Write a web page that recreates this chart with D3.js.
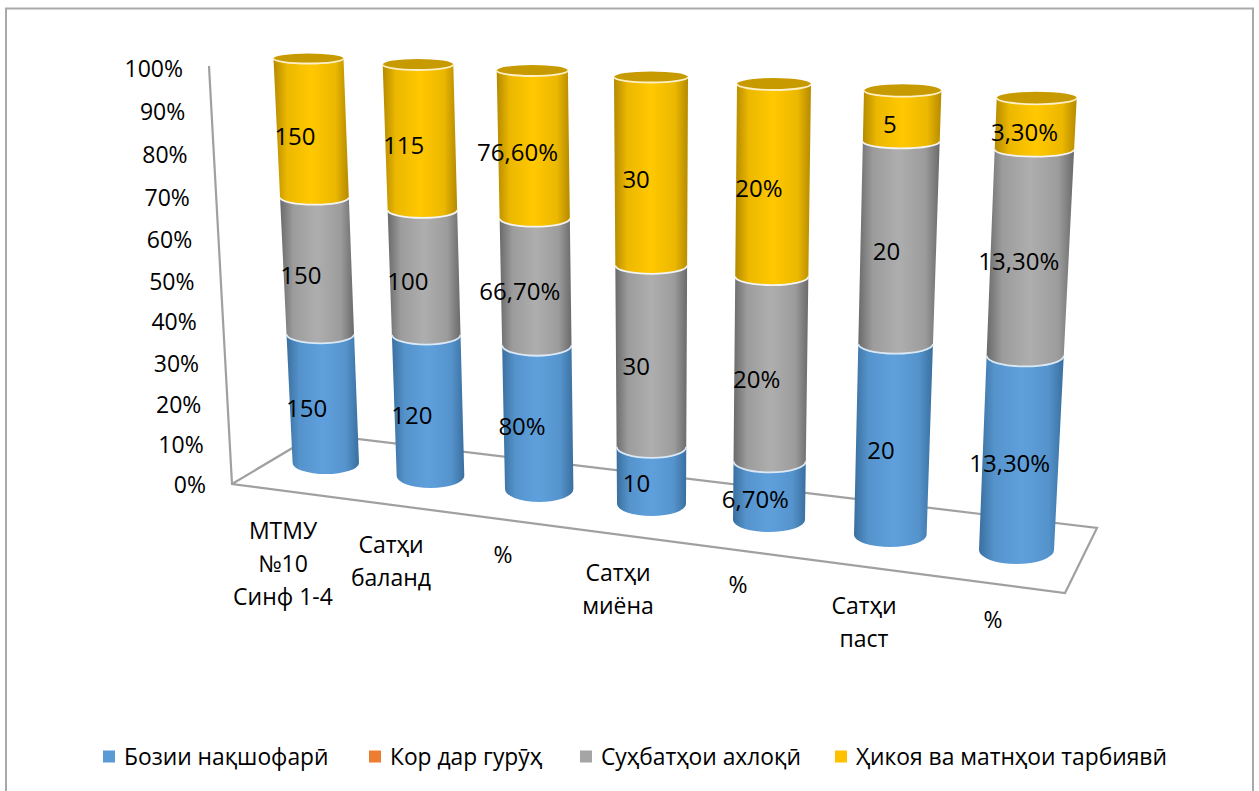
<!DOCTYPE html>
<html>
<head>
<meta charset="utf-8">
<script src="https://cdnjs.cloudflare.com/ajax/libs/d3/7.8.5/d3.min.js"></script>
<style>
html,body{margin:0;padding:0;background:#fff;overflow:hidden}
text{font-family:"Open Sans","Noto Sans",sans-serif;fill:#000}
</style>
</head>
<body>
<svg id="c" width="1259" height="791"></svg>
<script>
// ---- data ----
const categories = [["МТМУ","№10","Синф 1-4"],["Сатҳи","баланд"],["%"],["Сатҳи","миёна"],["%"],["Сатҳи","паст"],["%"]];
const seriesNames = ["Бозии нақшофарӣ","Кор дар гурӯҳ","Суҳбатҳои ахлоқӣ","Ҳикоя ва матнҳои тарбиявӣ"];
const boziValues  = [150,120,80,10,6.7,20,13.3];
const korValues   = [0,0,0,0,0,0,0];
const suhbatValues= [150,100,66.7,30,20,20,13.3];
const hikoyaValues= [150,115,76.6,30,20,5,3.3];
const percentTicks = [0,10,20,30,40,50,60,70,80,90,100];

// ---- layout / perspective scales ----
const idx = d3.range(categories.length);
const at = r => d3.scaleLinear().domain(idx).range(r);
const cxBottom = at([325.8,430.5,539.2,651.5,769,890.3,1016.5]);
const cxTop    = at([308.5,418,532.3,651,774,902.7,1036.7]);
const hwBottom = at([33.2,33.8,34.2,34.5,36,36.3,37.5]);
const hwTop    = at([35,35.3,35.6,37,37,38.7,40]);
const yBottom  = at([463,476,489,504,520,535,550]);
const yTop     = at([58.5,64.5,70.5,77,84,90.5,98]);
const ryBottom = at([11,12,13,12,12,12,14]);
const ryTop    = at([5,5.5,5.5,5.5,6,6.2,6.3]);
const depth = d3.scaleLinear().domain([0,25,50,75,100]).range([0,0.235,0.485,0.742,1]);
const lerp = (a,b,t)=>a+(b-a)*t;
const geo = (i,pct)=>{const t=depth(pct);return {
  x:lerp(cxBottom(i),cxTop(i),t), y:lerp(yBottom(i),yTop(i),t),
  hw:lerp(hwBottom(i),hwTop(i),t), ry:lerp(ryBottom(i),ryTop(i),t)};};
const tickY = d3.scaleLinear().domain(percentTicks).range([485,445,405,364,322,282,240,198,155,112,69]);
const tickX = d3.scaleLinear().domain([0,100]).range([206,183]);
const catX = at([283,391,503,618,738,864,993]);
const catY = at([531,545,555,573,585,606,620]);
const labelDx = at([-16.5,-16.5,-16,-15,-14,-12,-11]);

const colors = ["#5b9bd5","#ed7d31","#a5a5a5","#ffc000"];
const mids   = ["#5fa0dc","#ed7d31","#aeaeae","#ffc800"];
const edges  = ["#3a6f9f","#a85a22","#6a6a6a","#b58a00"];
const rims   = ["#dbe9f6","#fff","#f4f4f4","#fff0c8"];

const svg = d3.select("#c");
const defs = svg.append("defs");
mids.forEach((c,k)=>{
  const g = defs.append("linearGradient").attr("id","g"+k);
  [[0,edges[k]],[.18,d3.interpolateRgb(edges[k],c)(.74)],[.5,c],[.82,d3.interpolateRgb(edges[k],c)(.74)],[1,edges[k]]]
    .forEach(([o,col])=>g.append("stop").attr("offset",o).attr("stop-color",col));
});

// frame
svg.append("path").attr("d","M6,791V8.5H1253V791").attr("fill","none").attr("stroke","#a9a9a9").attr("stroke-width",2);

// floor and wall
const floor = d3.line();
svg.append("path").attr("d",floor([[209,66],[232,484],[1065,593],[1097,528],[316,434],[232,484]]))
  .attr("fill","none").attr("stroke","#a0a0a0").attr("stroke-width",2.2);

// ticks
svg.append("g").selectAll("text").data(percentTicks).join("text")
  .attr("x",d=>tickX(d)).attr("y",d=>tickY(d)).attr("dy","0.35em")
  .attr("text-anchor","end").attr("font-size",23).text(d=>d+"%");

// category labels
categories.forEach((lines,i)=>{
  svg.append("text").attr("text-anchor","middle").attr("font-size",23)
    .selectAll("tspan").data(lines).join("tspan")
    .attr("x",catX(i)).attr("y",(d,j)=>catY(i)+j*33).attr("dy","0.35em").text(d=>d);
});

// stack
const rows = idx.map(i=>({i,s0:boziValues[i],s1:korValues[i],s2:suhbatValues[i],s3:hikoyaValues[i]}));
const stacked = d3.stack().keys(["s0","s1","s2","s3"]).offset(d3.stackOffsetExpand)(rows);

const segPath=(i,a,b)=>{
  const p=geo(i,a*100),q=geo(i,b*100);
  return `M${q.x-q.hw},${q.y}A${q.hw},${q.ry} 0 0 0 ${q.x+q.hw},${q.y}L${p.x+p.hw},${p.y}A${p.hw},${p.ry} 0 0 1 ${p.x-p.hw},${p.y}Z`;
};
const gBars = svg.append("g");
idx.forEach(i=>{
  stacked.forEach((s,k)=>{
    const [a,b]=s[i];
    if(b-a<=0) return;
    gBars.append("path").attr("d",segPath(i,a,b)).attr("fill",`url(#g${k})`);
  });
  stacked.forEach((s,k)=>{
    const [a,b]=s[i];
    if(b-a<=0) return;
    const q=geo(i,b*100);
    if(k===stacked.length-1)
      gBars.append("ellipse").attr("cx",q.x).attr("cy",q.y).attr("rx",q.hw).attr("ry",q.ry).attr("fill","#c79a00");
    gBars.append("path").attr("d",`M${q.x-q.hw},${q.y}A${q.hw},${q.ry} 0 0 0 ${q.x+q.hw},${q.y}`)
      .attr("fill","none").attr("stroke",rims[k]).attr("stroke-width",1.8);
  });
});

// data labels
const fmt=(v,i)=>{
  if(categories[i][0]!=="%") return String(v);
  return (Number.isInteger(v)?String(v):v.toFixed(2).replace(".",","))+"%";
};
const gLab = svg.append("g");
stacked.forEach(s=>{
  idx.forEach(i=>{
    const [a,b]=s[i];
    if(b-a<=0) return;
    const mid=geo(i,(a+b)*50);
    gLab.append("text").attr("x",mid.x+labelDx(i)).attr("y",mid.y+8.5).attr("dy","0.35em")
      .attr("text-anchor","middle").attr("font-size",24).text(fmt(s[i].data[s.key],i));
  });
});

// legend
const legX = d3.scaleOrdinal().domain(seriesNames).range([103,369,580,835]);
const gLeg = svg.append("g");
seriesNames.forEach((n,k)=>{
  gLeg.append("rect").attr("x",legX(n)).attr("y",750.5).attr("width",12).attr("height",12).attr("fill",colors[k]);
  gLeg.append("text").attr("x",legX(n)+21).attr("y",757).attr("dy","0.35em").attr("font-size",22.8).text(n);
});
</script>
</body>
</html>
